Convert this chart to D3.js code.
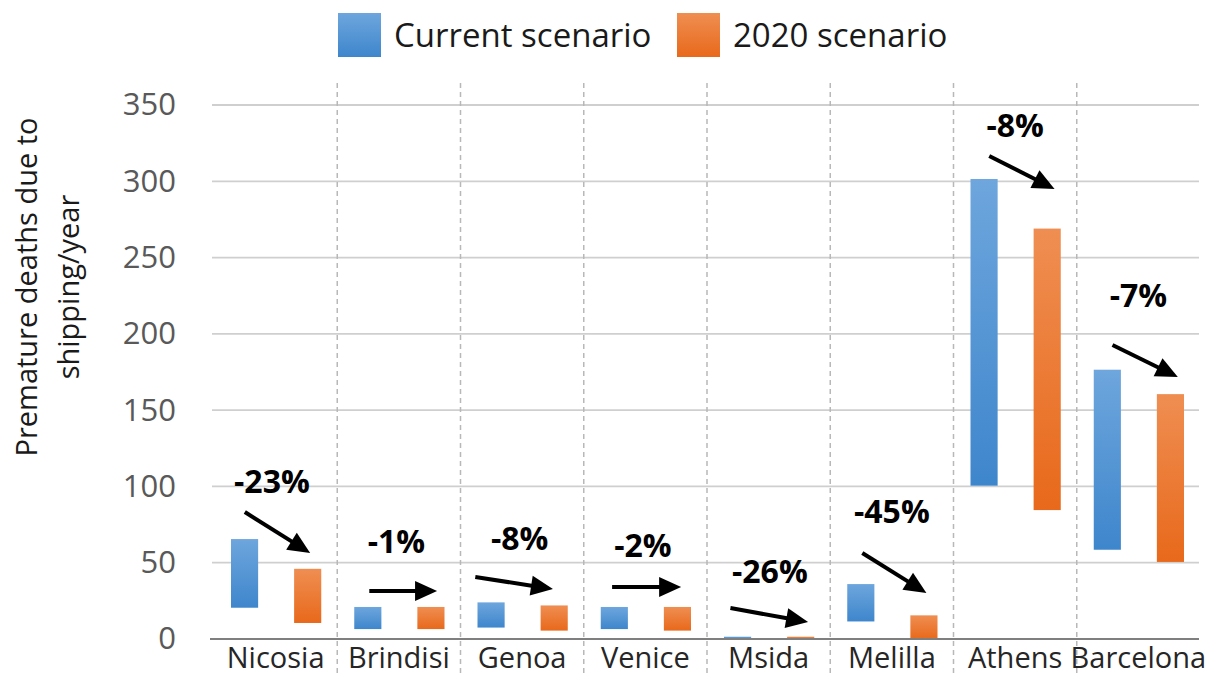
<!DOCTYPE html>
<html>
<head>
<meta charset="utf-8">
<script src="https://cdn.jsdelivr.net/npm/d3@7"></script>
<style>
  body { margin: 0; background: #fff; }
  svg { display: block; font-family: "Open Sans", sans-serif; }
</style>
</head>
<body>
<svg id="chart" width="1228" height="677"></svg>
<script>
const width = 1228, height = 677;

// data
const categories = ["Nicosia", "Brindisi", "Genoa", "Venice", "Msida", "Melilla", "Athens", "Barcelona"];
const seriesNames = ["Current scenario", "2020 scenario"];
const currentLow  = [20.5, 6.5, 7.5, 6.5, 0.3, 11.5, 100.5, 58.5];
const currentHigh = [65.5, 21, 24, 21, 1.5, 36, 301.5, 176.5];
const futureLow   = [10.5, 6.5, 5.5, 5.5, 0.3, 0, 84.5, 50.5];
const futureHigh  = [46, 21, 22, 21, 1.5, 15.5, 269, 160.5];
const changeLabels = ["-23%", "-1%", "-8%", "-2%", "-26%", "-45%", "-8%", "-7%"];
const yTicks = [0, 50, 100, 150, 200, 250, 300, 350];

// annotation placement (value units, x as fraction of the category band)
const labelValue = [95.7, 56.4, 58.3, 53.7, 36.7, 76, 329, 217.6];
const labelFrac  = [0.47, 0.48, 0.48, 0.48, 0.51, 0.5, 0.5, 0.5];
const arrowFromValue = [83.2, 31.5, 40.6, 34.1, 20.3, 56.4, 316.6, 192.7];
const arrowToValue   = [56.4, 31.5, 32.8, 34.1, 11.1, 30.2, 294.9, 171.7];
const arrowFromFrac  = [0.25, 0.26, 0.12, 0.23, 0.19, 0.26, 0.29, 0.29];
const arrowToFrac    = [0.78, 0.81, 0.75, 0.79, 0.82, 0.78, 0.82, 0.82];

const svg = d3.select("#chart");

const x0 = d3.scaleBand().domain(categories).range([214, 1200]).padding(0);
const x1 = d3.scaleBand().domain(seriesNames)
  .range([17, x0.bandwidth() - 16]).paddingInner(0.57);
const y = d3.scaleLinear().domain([0, 350]).range([639, 105]);

const colors = ["blueGrad", "orangeGrad"];
const defs = svg.append("defs");
function grad(id, top, bottom) {
  const g = defs.append("linearGradient").attr("id", id)
    .attr("x1", 0).attr("y1", 0).attr("x2", 0).attr("y2", 1);
  g.append("stop").attr("offset", "0%").attr("stop-color", top);
  g.append("stop").attr("offset", "100%").attr("stop-color", bottom);
}
grad("blueGrad", "#6ea6dd", "#3e86cc");
grad("orangeGrad", "#ef8e52", "#e8691b");

// gridlines
svg.append("g").selectAll("line")
  .data(yTicks.filter(d => d > 0))
  .join("line")
  .attr("x1", 212).attr("x2", 1199)
  .attr("y1", d => y(d)).attr("y2", d => y(d))
  .attr("stroke", "#cfcfcf").attr("stroke-width", 1.8);

// category dividers
svg.append("g").selectAll("line")
  .data(categories.slice(1))
  .join("line")
  .attr("x1", d => x0(d)).attr("x2", d => x0(d))
  .attr("y1", 83).attr("y2", height)
  .attr("stroke", "#b8b8b8").attr("stroke-width", 1.5)
  .attr("stroke-dasharray", "5,4");

// y axis
const yAxis = svg.append("g")
  .attr("transform", "translate(176,0)")
  .call(d3.axisLeft(y).tickValues(yTicks).tickSize(0).tickPadding(0));
yAxis.select(".domain").remove();
yAxis.selectAll("text")
  .attr("font-family", "Open Sans, sans-serif")
  .attr("font-size", 31).attr("fill", "#595959");

// bars
const rows = categories.map((c, i) => ({
  cat: c,
  bars: [
    { s: seriesNames[0], lo: currentLow[i], hi: currentHigh[i], fill: colors[0] },
    { s: seriesNames[1], lo: futureLow[i], hi: futureHigh[i], fill: colors[1] }
  ]
}));

svg.append("g").selectAll("g")
  .data(rows)
  .join("g")
  .attr("transform", d => `translate(${x0(d.cat)},0)`)
  .selectAll("rect")
  .data(d => d.bars)
  .join("rect")
  .attr("x", d => x1(d.s))
  .attr("width", x1.bandwidth())
  .attr("y", d => y(d.hi))
  .attr("height", d => Math.max(1.5, y(d.lo) - y(d.hi)))
  .attr("fill", d => `url(#${d.fill})`);

// x axis line
svg.append("line")
  .attr("x1", 210).attr("x2", 1199)
  .attr("y1", y(0)).attr("y2", y(0))
  .attr("stroke", "#7f7f7f").attr("stroke-width", 2.2);

// category labels
svg.append("g").selectAll("text")
  .data(categories)
  .join("text")
  .attr("x", d => x0(d) + x0.bandwidth() / 2)
  .attr("y", 668)
  .attr("text-anchor", "middle")
  .attr("font-size", 29).attr("fill", "#262626")
  .text(d => d);

// change labels + arrows
const ann = svg.append("g");
categories.forEach((c, i) => {
  const bx = x0(c), bw = x0.bandwidth();
  ann.append("text")
    .attr("x", bx + bw * labelFrac[i])
    .attr("y", y(labelValue[i]))
    .attr("text-anchor", "middle")
    .attr("font-size", 32).attr("font-weight", "bold").attr("fill", "#000")
    .text(changeLabels[i]);

  const xa = bx + bw * arrowFromFrac[i], ya = y(arrowFromValue[i]);
  const xb = bx + bw * arrowToFrac[i], yb = y(arrowToValue[i]);
  const len = Math.hypot(xb - xa, yb - ya);
  const ux = (xb - xa) / len, uy = (yb - ya) / len;
  const headL = 22, headW = 10;
  const bxh = xb - ux * headL, byh = yb - uy * headL;
  ann.append("line")
    .attr("x1", xa).attr("y1", ya)
    .attr("x2", bxh + ux * 2).attr("y2", byh + uy * 2)
    .attr("stroke", "#000").attr("stroke-width", 4);
  ann.append("path")
    .attr("d", `M${xb},${yb}L${bxh - uy * headW},${byh + ux * headW}L${bxh + uy * headW},${byh - ux * headW}Z`)
    .attr("fill", "#000");
});

// y title
const yTitle = svg.append("g").attr("font-size", 29).attr("fill", "#1a1a1a");
yTitle.append("text")
  .attr("transform", "translate(37,287) rotate(-90)")
  .attr("text-anchor", "middle")
  .text("Premature deaths due to");
yTitle.append("text")
  .attr("transform", "translate(79,287) rotate(-90)")
  .attr("text-anchor", "middle")
  .text("shipping/year");

// legend
const legendX = [338, 677];
const legend = svg.append("g");
seriesNames.forEach((s, i) => {
  legend.append("rect")
    .attr("x", legendX[i]).attr("y", 13)
    .attr("width", 43).attr("height", 44)
    .attr("fill", `url(#${colors[i]})`);
  legend.append("text")
    .attr("x", legendX[i] + 56).attr("y", 47)
    .attr("font-size", 33).attr("fill", "#1a1a1a")
    .text(s);
});
</script>
</body>
</html>
